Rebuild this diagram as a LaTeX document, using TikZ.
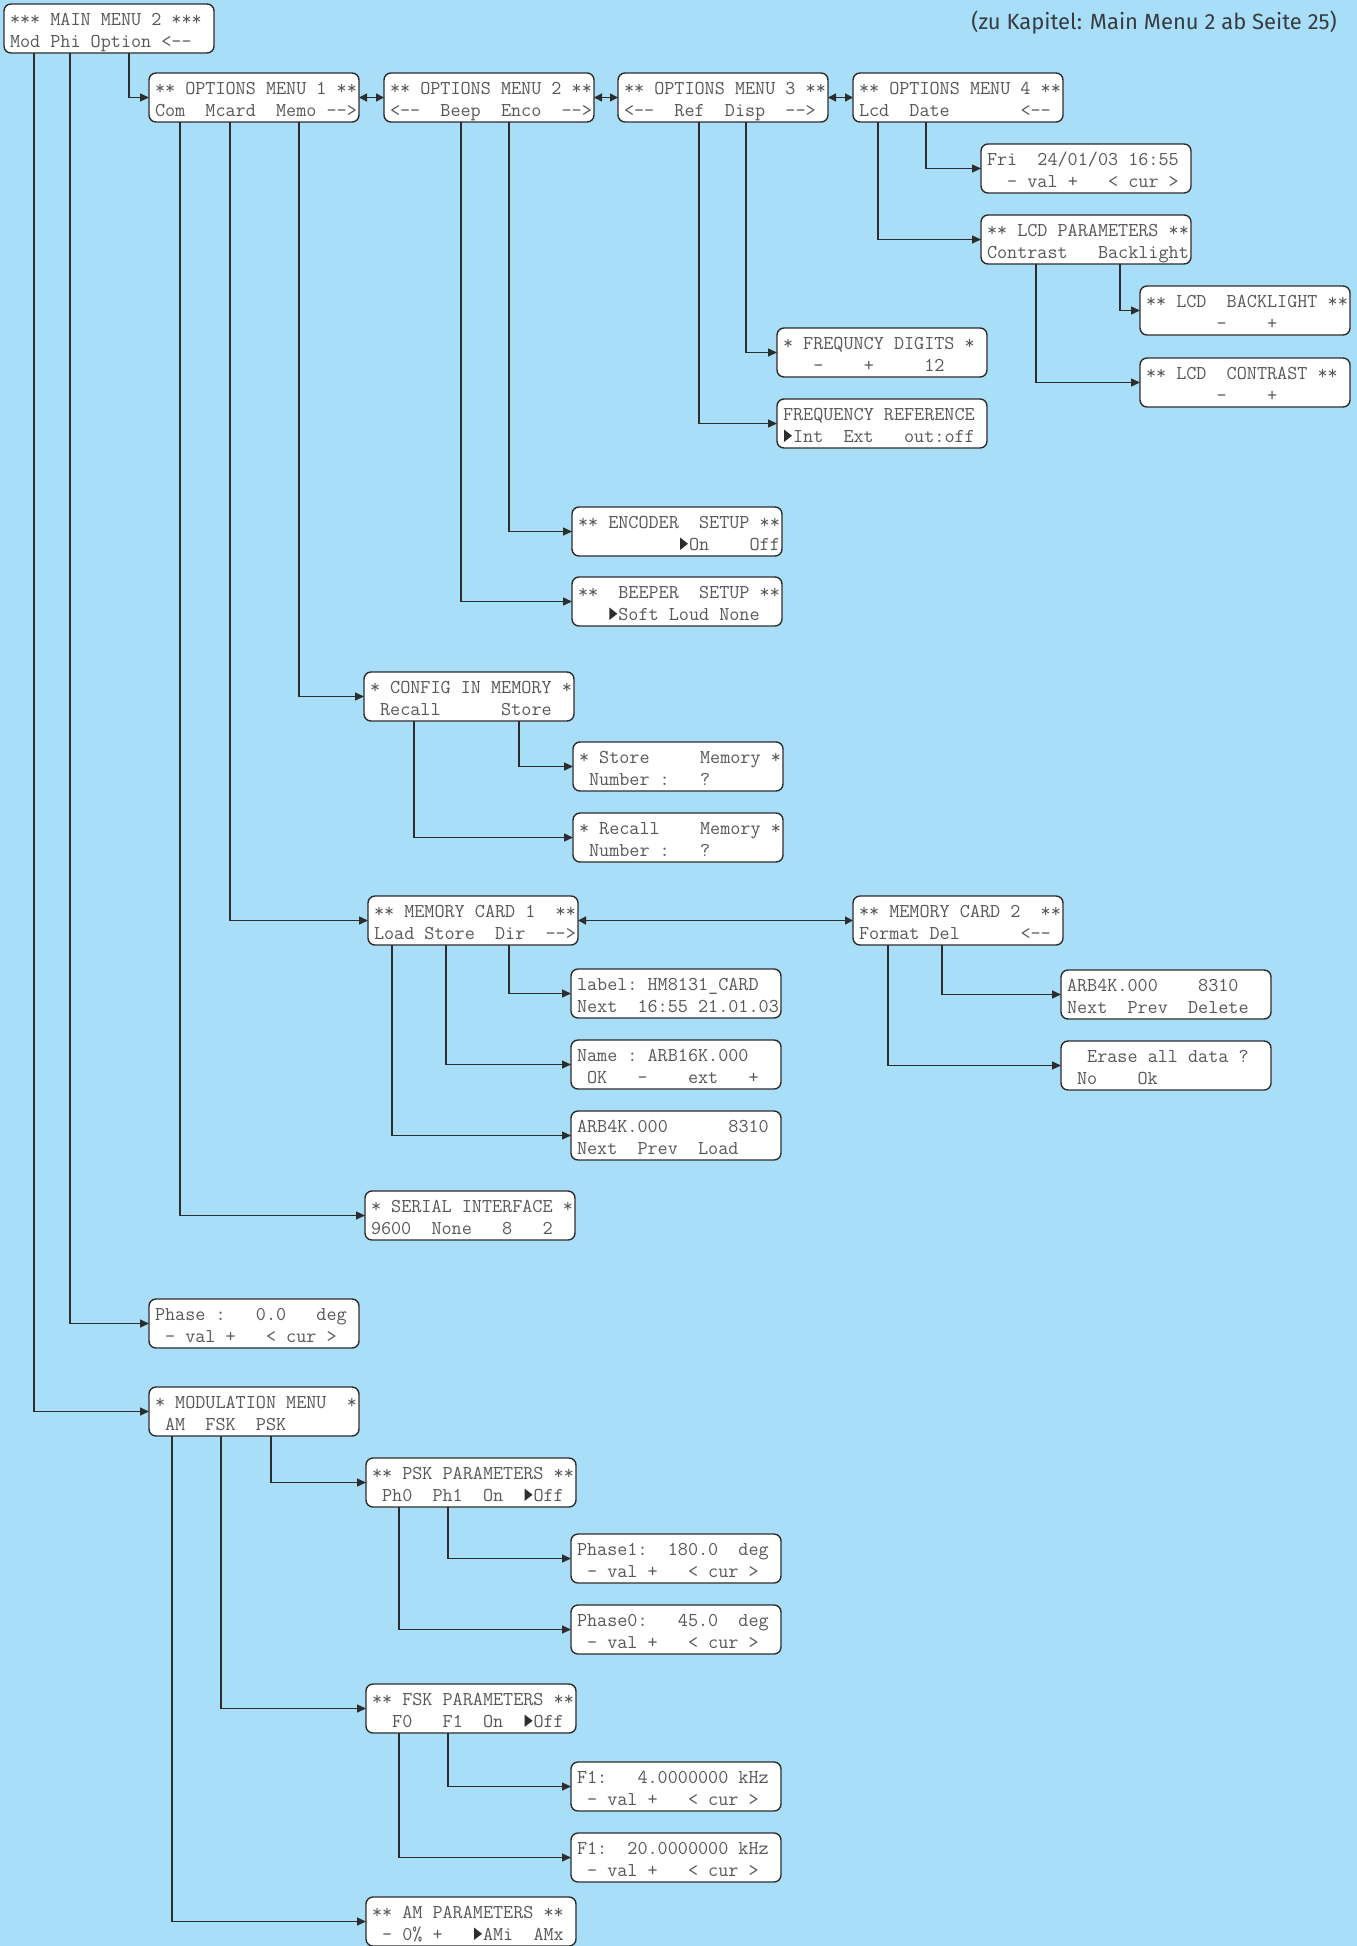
\documentclass[tikz,border=0pt]{standalone}
\usepackage{fontspec}
\newfontfamily\titlefont{Fira Sans}
\usetikzlibrary{arrows.meta}
\definecolor{bgblue}{RGB}{168,222,248}
\definecolor{lcdtext}{RGB}{88,88,88}
\definecolor{boxline}{RGB}{45,45,45}
\definecolor{titlecol}{RGB}{55,60,65}
\newcommand\la{<-\kern0pt-}
\newcommand\ra{-\kern0pt->}
\newcommand\lcdfont{\ttfamily\fontsize{19.6}{22}\selectfont\frenchspacing}
\newcommand\lcdbox[5]{%
  \node[lcd] (#1) at (#2,#3) {\vbox to 49pt{\offinterlineskip\kern21pt
    \hbox to 210pt{\hskip6pt\smash{#4}\hss}\kern22pt
    \hbox to 210pt{\hskip6pt\smash{#5}\hss}\vss}};}
\newcommand\lcdtri[2]{%
  \fill[boxline] ([shift={({7+#2*10.1},43)}]#1.north west) -- ++(0,-12.5) -- ++(8,6.25) -- cycle;}
\tikzset{
  lcd/.style={draw=boxline, fill=white, line width=1.4pt, rounded corners=7pt,
    inner sep=0pt, outer sep=0pt, anchor=north west, font=\lcdfont, text=lcdtext},
  conn/.style={draw=boxline, line width=1.4pt, -{Triangle[length=9pt,width=8pt]}},
  dconn/.style={draw=boxline, line width=1.4pt,
    {Triangle[length=8pt,width=8pt]}-{Triangle[length=8pt,width=8pt]}},
}
\begin{document}
\begin{tikzpicture}[x=1pt,y=-1pt]
\useasboundingbox (0,0) rectangle (1357,1946);
\fill[bgblue] (0,0) rectangle (1357,1946);

\node[anchor=base east, font=\titlefont\fontsize{22}{26}\selectfont, text=titlecol, inner sep=0pt] (title) at (1337,29) {(zu Kapitel: Main Menu 2 ab Seite 25)};

\lcdbox{main}{4}{4}{***~MAIN~MENU~2~***}{Mod~Phi~Option~\la}
\lcdbox{om1}{149}{73}{**~OPTIONS~MENU~1~**}{Com~~Mcard~~Memo~\ra}
\lcdbox{om2}{384}{73}{**~OPTIONS~MENU~2~**}{\la~~Beep~~Enco~~\ra}
\lcdbox{om3}{618}{73}{**~OPTIONS~MENU~3~**}{\la~~Ref~~Disp~~\ra}
\lcdbox{om4}{853}{73}{**~OPTIONS~MENU~4~**}{Lcd~~Date~~~~~~~\la}
\lcdbox{date}{981}{144}{Fri~~24/01/03~16:55}{~~-~val~+~~~<~cur~>}
\lcdbox{lcdp}{981}{215}{**~LCD~PARAMETERS~**}{Contrast~~~Backlight}
\lcdbox{lcdb}{1140}{286}{**~LCD~~BACKLIGHT~**}{~~~~~~~-~~~~+}
\lcdbox{lcdc}{1140}{358}{**~LCD~~CONTRAST~**}{~~~~~~~-~~~~+}
\lcdbox{fdig}{777}{328}{*~FREQUNCY~DIGITS~*}{~~~-~~~~+~~~~~12}
\lcdbox{fref}{777}{399}{FREQUENCY~REFERENCE}{~Int~~Ext~~~out:off}
\lcdbox{enc}{572}{507}{**~ENCODER~~SETUP~**}{~~~~~~~~~~~On~~~~Off}
\lcdbox{beep}{572}{577}{**~~BEEPER~~SETUP~**}{~~~~Soft~Loud~None}
\lcdbox{conf}{364}{672}{*~CONFIG~IN~MEMORY~*}{~Recall~~~~~~Store}
\lcdbox{stm}{573}{742}{*~Store~~~~~Memory~*}{~Number~:~~~?}
\lcdbox{rcm}{573}{813}{*~Recall~~~~Memory~*}{~Number~:~~~?}
\lcdbox{mc1}{368}{896}{**~MEMORY~CARD~1~~**}{Load~Store~~Dir~~\ra}
\lcdbox{mc2}{853}{896}{**~MEMORY~CARD~2~~**}{Format~Del~~~~~~\la}
\lcdbox{lab}{571}{969}{label:~HM8131\_CARD}{Next~~16:55~21.01.03}
\lcdbox{name}{571}{1040}{Name~:~ARB16K.000}{~OK~~~-~~~~ext~~~+}
\lcdbox{arbl}{571}{1111}{ARB4K.000~~~~~~8310}{Next~~Prev~~Load}
\lcdbox{arbd}{1061}{970}{ARB4K.000~~~~8310}{Next~~Prev~~Delete}
\lcdbox{erase}{1061}{1041}{~~Erase~all~data~?}{~No~~~~Ok}
\lcdbox{ser}{365}{1191}{*~SERIAL~INTERFACE~*}{9600~~None~~~8~~~2}
\lcdbox{phase}{149}{1299}{Phase~:~~~0.0~~~deg}{~-~val~+~~~<~cur~>}
\lcdbox{mod}{149}{1387}{*~MODULATION~MENU~~*}{~AM~~FSK~~PSK}
\lcdbox{psk}{366}{1458}{**~PSK~PARAMETERS~**}{~Ph0~~Ph1~~On~~~Off}
\lcdbox{ph1}{571}{1534}{Phase1:~~180.0~~deg}{~-~val~+~~~<~cur~>}
\lcdbox{ph0}{571}{1605}{Phase0:~~~45.0~~deg}{~-~val~+~~~<~cur~>}
\lcdbox{fsk}{366}{1684}{**~FSK~PARAMETERS~**}{~~F0~~~F1~~On~~~Off}
\lcdbox{f14}{571}{1762}{F1:~~~4.0000000~kHz}{~-~val~+~~~<~cur~>}
\lcdbox{f20}{571}{1833}{F1:~~20.0000000~kHz}{~-~val~+~~~<~cur~>}
\lcdbox{am}{366}{1897}{**~AM~PARAMETERS~**}{~-~0\%~+~~~~AMi~~AMx}

\lcdtri{fref}{0}
\lcdtri{enc}{10}
\lcdtri{beep}{3}
\lcdtri{psk}{15}
\lcdtri{fsk}{15}
\lcdtri{am}{10}

% connectors
\draw[conn] ([xshift=125pt]main.south west) |- (om1.west);
\draw[conn] ([xshift=66pt]main.south west) |- (phase.west);
\draw[conn] ([xshift=30pt]main.south west) |- (mod.west);
\draw[dconn] (om1.east) -- (om2.west);
\draw[dconn] (om2.east) -- (om3.west);
\draw[dconn] (om3.east) -- (om4.west);
\draw[conn] ([xshift=150pt]om1.south west) |- (conf.west);
\draw[conn] ([xshift=81pt]om1.south west) |- (mc1.west);
\draw[conn] ([xshift=31pt]om1.south west) |- (ser.west);
\draw[conn] ([xshift=125pt]om2.south west) |- (enc.west);
\draw[conn] ([xshift=77pt]om2.south west) |- (beep.west);
\draw[conn] ([xshift=128pt]om3.south west) |- (fdig.west);
\draw[conn] ([xshift=81pt]om3.south west) |- (fref.west);
\draw[conn] ([xshift=73pt]om4.south west) |- (date.west);
\draw[conn] ([xshift=25pt]om4.south west) |- (lcdp.west);
\draw[conn] ([xshift=139pt]lcdp.south west) |- (lcdb.west);
\draw[conn] ([xshift=55pt]lcdp.south west) |- (lcdc.west);
\draw[conn] ([xshift=155pt]conf.south west) |- (stm.west);
\draw[conn] ([xshift=50pt]conf.south west) |- (rcm.west);
\draw[conn] ([xshift=141pt]mc1.south west) |- (lab.west);
\draw[conn] ([xshift=78pt]mc1.south west) |- (name.west);
\draw[conn] ([xshift=24pt]mc1.south west) |- (arbl.west);
\draw[dconn] (mc1.east) -- (mc2.west);
\draw[conn] ([xshift=89pt]mc2.south west) |- (arbd.west);
\draw[conn] ([xshift=35pt]mc2.south west) |- (erase.west);
\draw[conn] ([xshift=122pt]mod.south west) |- (psk.west);
\draw[conn] ([xshift=72pt]mod.south west) |- (fsk.west);
\draw[conn] ([xshift=23pt]mod.south west) |- (am.west);
\draw[conn] ([xshift=82pt]psk.south west) |- (ph1.west);
\draw[conn] ([xshift=33pt]psk.south west) |- (ph0.west);
\draw[conn] ([xshift=82pt]fsk.south west) |- (f14.west);
\draw[conn] ([xshift=33pt]fsk.south west) |- (f20.west);
\end{tikzpicture}
\end{document}
